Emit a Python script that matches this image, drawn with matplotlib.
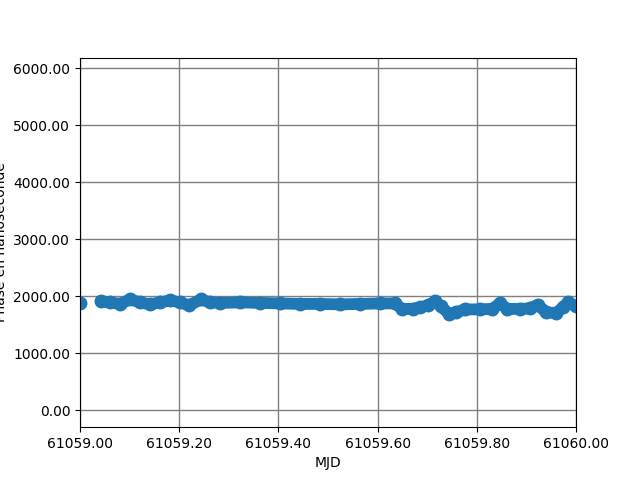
import matplotlib
matplotlib.use('Agg')
import matplotlib.pyplot as plt
from matplotlib.ticker import FormatStrFormatter

# first isolated point
mjd0 = [61059.000]
phase0 = [1890]

# main run of data (MJD, phase in ns)
mjd = [61059.042, 61059.060, 61059.081, 61059.101, 61059.121, 61059.141,
       61059.161, 61059.181, 61059.202, 61059.220, 61059.244, 61059.262,
       61059.282, 61059.323, 61059.363, 61059.403, 61059.444, 61059.484,
       61059.524, 61059.565, 61059.605, 61059.635, 61059.649, 61059.671,
       61059.685, 61059.702, 61059.716, 61059.728, 61059.744, 61059.758,
       61059.776, 61059.806, 61059.831, 61059.847, 61059.861, 61059.887,
       61059.907, 61059.923, 61059.940, 61059.960, 61059.974, 61059.984,
       61060.000]
phase = [1912, 1895, 1868, 1947, 1895, 1860,
         1895, 1930, 1895, 1842, 1947, 1895,
         1886, 1895, 1886, 1877, 1868, 1868,
         1860, 1868, 1877, 1877, 1781, 1781,
         1807, 1842, 1912, 1825, 1693, 1719,
         1772, 1772, 1781, 1877, 1781, 1781,
         1790, 1851, 1719, 1710, 1807, 1895,
         1825]

fig, ax = plt.subplots(figsize=(6.4, 4.8), dpi=100)
ax.plot(mjd0, phase0, 'o', color='#1f77b4', ms=9)
ax.plot(mjd, phase, 'o-', color='#1f77b4', ms=9, lw=8.5,
        solid_capstyle='round', solid_joinstyle='round')

ax.set_xlim(61059.0, 61060.0)
ax.set_ylim(-295, 6190)
ax.set_xticks([61059.0, 61059.2, 61059.4, 61059.6, 61059.8, 61060.0])
ax.set_yticks([0, 1000, 2000, 3000, 4000, 5000, 6000])
ax.xaxis.set_major_formatter(FormatStrFormatter('%.2f'))
ax.yaxis.set_major_formatter(FormatStrFormatter('%.2f'))
ax.grid(True, color='gray', linewidth=1)
ax.set_xlabel('MJD')
ax.set_ylabel('Phase en nanoseconde')

fig.savefig('out.png')
